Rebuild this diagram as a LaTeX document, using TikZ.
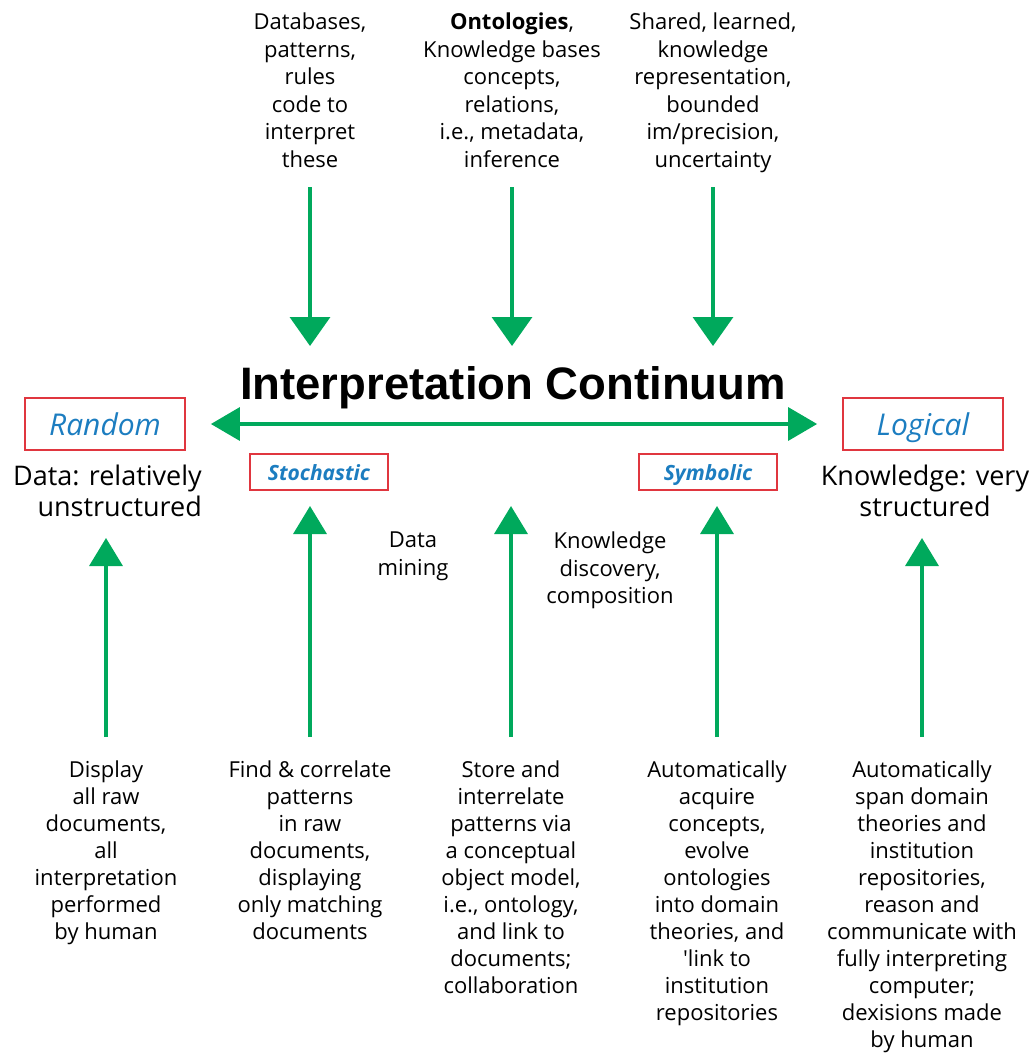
\documentclass[tikz,border=0pt]{standalone}
\usepackage{fontspec}
\setmainfont{Open Sans}
\newfontfamily\headfont{Liberation Sans}
\usetikzlibrary{arrows.meta,positioning,calc}
\definecolor{arrowgreen}{HTML}{00A95C}
\definecolor{boxred}{HTML}{E0363F}
\definecolor{labelblue}{HTML}{1C7DC0}

\begin{document}
\begin{tikzpicture}[
    x=1pt, y=-1pt,
    txt/.style={font=\fontsize{22}{27.5}\selectfont, align=center, inner sep=0pt, text=black},
    lowtxt/.style={txt, font=\fontsize{22}{27}\selectfont},
    bigtxt/.style={font=\fontsize{27}{31}\selectfont, inner sep=0pt, text=black},
    endbox/.style={draw=boxred, line width=1.8pt, minimum width=160pt, minimum height=52pt, text height=22pt, text depth=0pt, font=\fontsize{30}{30}\selectfont\itshape, text=labelblue},
    midbox/.style={draw=boxred, line width=1.5pt, minimum width=138pt, minimum height=36pt, text height=16pt, text depth=0pt, font=\fontsize{21}{21}\selectfont\bfseries\itshape, text=labelblue},
    down/.style={-{Triangle[width=40pt,length=29pt]}, line width=3.5pt, arrowgreen},
    up/.style={-{Triangle[width=33pt,length=28pt]}, line width=3.5pt, arrowgreen},
    both/.style={{Triangle[width=33pt,length=29pt]}-{Triangle[width=33pt,length=29pt]}, line width=3.5pt, arrowgreen, shorten >=25pt, shorten <=25pt},
]
\useasboundingbox (0,0) rectangle (1034,1053);

% Top sources
\node[txt, anchor=north] (dbtext) at (310,13) {Databases,\\patterns,\\rules\\code to\\interpret\\these};
\node[txt, anchor=north] (ontotext) at (512,13) {\textbf{Ontologies},\\Knowledge bases\\concepts,\\relations,\\i.e., metadata,\\inference};
\node[txt, anchor=north] (sharedtext) at (713,13) {Shared, learned,\\knowledge\\representation,\\bounded\\im/precision,\\uncertainty};

% Continuum
\node[anchor=base, inner sep=0pt, font=\headfont\fontsize{45.5}{45.5}\selectfont\bfseries] (title) at (513,399) {Interpretation Continuum};
\node[endbox] (random) at (105,424) {Random};
\node[endbox] (logical) at (923,424) {Logical};
\node[midbox] (stoch) at (319,472) {Stochastic};
\node[midbox] (symb) at (708,472) {Symbolic};
\node[bigtxt, align=right, anchor=north east] (datatext) at (202,465) {Data: relatively\\unstructured};
\node[bigtxt, align=center, anchor=north] (knowtext) at (925,465) {Knowledge: very\\structured};
\node[txt, anchor=north] (mining) at (413,532) {Data\\mining};
\node[txt, anchor=north] (discovery) at (610,532) {Knowledge\\discovery,\\composition};

% Bottom capabilities
\node[lowtxt, anchor=north] (display) at (106,761) {Display\\all raw\\documents,\\all\\interpretation\\performed\\by human};
\node[lowtxt, anchor=north] (find) at (310,761) {Find \& correlate\\patterns\\in raw\\documents,\\displaying\\only matching\\documents};
\node[lowtxt, anchor=north] (store) at (511,761) {Store and\\interrelate\\patterns via\\a conceptual\\object model,\\i.e., ontology,\\and link to\\documents;\\collaboration};
\node[lowtxt, anchor=north] (acquire) at (717,761) {Automatically\\acquire\\concepts,\\evolve\\ontologies\\into domain\\theories, and\\\textquotesingle link to\\institution\\repositories};
\node[lowtxt, anchor=north] (span) at (922,761) {Automatically\\span domain\\theories and\\institution\\repositories,\\reason and\\communicate with\\fully interpreting\\computer;\\dexisions made\\by human};

% Arrow rows
\coordinate (toprow) at (0,187);
\coordinate (topend) at (0,346);
\coordinate (botrow) at (0,737);
\coordinate (innertip) at (0,506);
\coordinate (outertip) at (0,538);

% Arrows
\draw[down] (dbtext |- toprow) -- (dbtext |- topend);
\draw[down] (ontotext |- toprow) -- (ontotext |- topend);
\draw[down] (sharedtext |- toprow) -- (sharedtext |- topend);
\draw[both] (random) -- (logical);
\draw[up] (display |- botrow) -- (display |- outertip);
\draw[up] (find |- botrow) -- (find |- innertip);
\draw[up] (store |- botrow) -- (store |- innertip);
\draw[up] (acquire |- botrow) -- (acquire |- innertip);
\draw[up] (span |- botrow) -- (span |- outertip);
\end{tikzpicture}
\end{document}
